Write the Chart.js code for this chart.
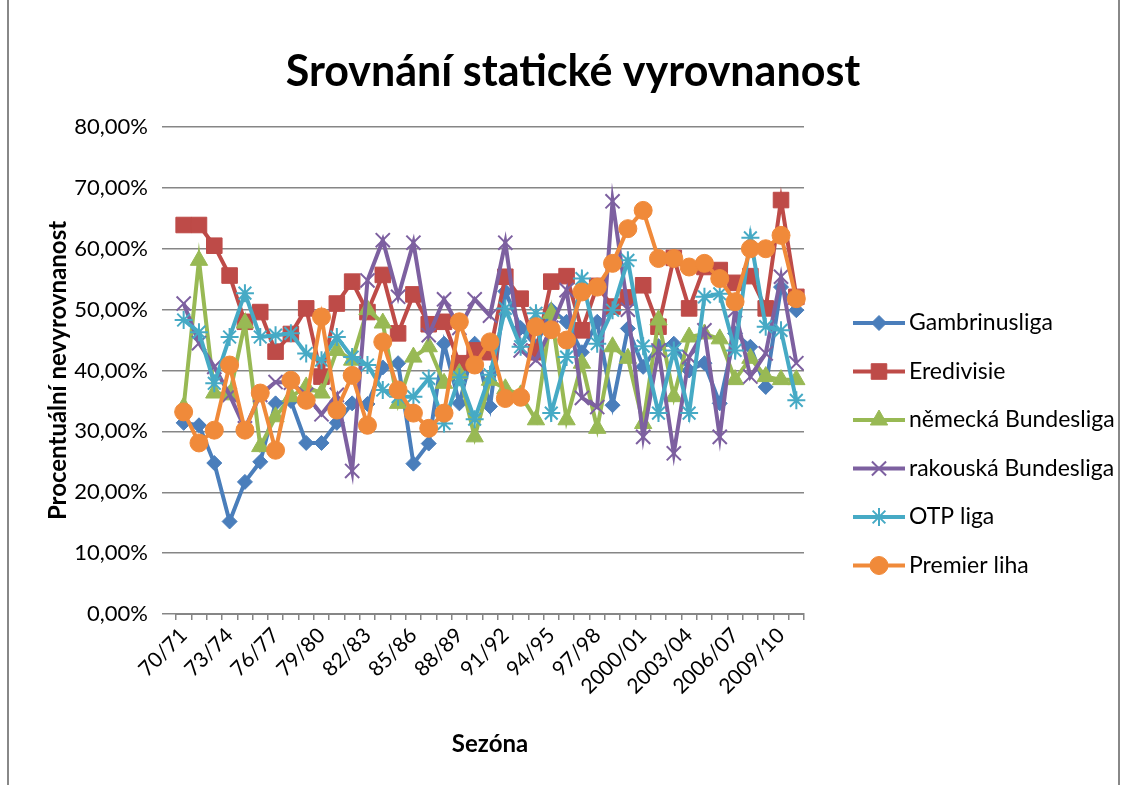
<!DOCTYPE html>
<html>
<head>
<meta charset="utf-8">
<title>Srovnání statické vyrovnanost</title>
<script src="https://cdn.jsdelivr.net/npm/chart.js@4.4.1/dist/chart.umd.min.js"></script>
<style>
  body { margin: 0; background: #fff; }
  #wrap { position: relative; width: 1128px; height: 785px; }
</style>
</head>
<body>
<div id="wrap"><canvas id="chart" width="1128" height="785"></canvas></div>
<script>
// Seasons (category axis)
const seasons = [
  "70/71", "71/72", "72/73", "73/74", "74/75", "75/76", "76/77", "77/78", "78/79", "79/80",
  "80/81", "81/82", "82/83", "83/84", "84/85", "85/86", "86/87", "87/88", "88/89", "89/90",
  "90/91", "91/92", "92/93", "93/94", "94/95", "95/96", "96/97", "97/98", "98/99", "99/2000",
  "2000/01", "2001/02", "2002/03", "2003/04", "2004/05", "2005/06", "2006/07", "2007/08", "2008/09", "2009/10",
  "2010/11"
];

// Values in percent
const gambrinusliga = [
  31.4, 31.0, 24.8, 15.2, 21.7, 25.0, 34.6, 35.0, 28.1, 28.1,
  31.4, 34.6, 34.5, 40.5, 41.2, 24.7, 28.0, 44.4, 34.6, 44.4,
  34.1, 53.0, 47.0, 44.0, 50.0, 48.0, 43.0, 48.0, 34.3, 46.9,
  40.6, 44.0, 44.4, 40.0, 41.2, 34.6, 46.1, 43.9, 37.3, 53.7,
  49.9
];
const eredivisie = [
  63.9, 63.9, 60.5, 55.6, 48.0, 49.6, 43.1, 46.0, 50.2, 39.0,
  51.0, 54.6, 49.6, 55.7, 46.1, 52.5, 47.6, 48.0, 41.2, 43.3,
  43.0, 55.4, 51.8, 43.0, 54.6, 55.5, 46.6, 53.9, 50.5, 52.0,
  54.0, 47.2, 58.5, 50.2, 57.0, 56.5, 54.4, 55.5, 50.2, 68.0,
  52.1
];
const nemeckaBundesliga = [
  34.0, 58.1, 36.3, 36.0, 47.8, 27.5, 32.4, 35.7, 37.3, 36.3,
  43.3, 41.7, 50.0, 47.8, 34.6, 42.2, 43.9, 37.9, 39.5, 29.1,
  38.4, 37.0, 36.0, 31.9, 49.4, 31.9, 41.2, 30.5, 43.9, 42.0,
  31.3, 48.3, 35.7, 45.5, 46.0, 45.2, 38.5, 42.0, 39.0, 38.5,
  38.5
];
const rakouskaBundesliga = [
  51.0, 44.5, 40.6, 36.0, 30.5, 36.0, 38.1, 38.0, 36.0, 32.8,
  36.0, 23.5, 54.8, 61.4, 52.1, 61.0, 45.8, 51.7, 47.0, 51.7,
  49.0, 61.0, 43.3, 41.7, 47.0, 53.2, 35.5, 34.0, 67.8, 50.0,
  29.1, 43.3, 26.4, 42.2, 46.6, 29.1, 49.9, 39.0, 42.8, 55.4,
  41.2
];
const otpLiga = [
  48.3, 46.3, 37.9, 45.5, 52.7, 45.5, 45.8, 46.1, 42.8, 41.7,
  45.5, 42.2, 40.9, 36.8, 35.7, 35.7, 38.7, 31.3, 38.9, 32.0,
  39.3, 50.2, 43.9, 49.4, 33.0, 42.2, 55.1, 44.4, 49.9, 58.1,
  44.0, 33.0, 43.3, 33.0, 52.1, 52.6, 43.3, 61.8, 47.2, 46.6,
  35.1
];
const premierLiha = [
  33.2, 28.1, 30.2, 40.9, 30.2, 36.3, 26.9, 38.4, 35.1, 48.8,
  33.5, 39.2, 31.0, 44.7, 36.8, 33.0, 30.5, 33.0, 48.0, 40.9,
  44.7, 35.4, 35.6, 47.2, 46.7, 45.0, 52.9, 53.7, 57.6, 63.3,
  66.3, 58.4, 58.4, 57.0, 57.6, 55.1, 51.3, 60.0, 60.0, 62.2,
  51.8
];

const seriesNames = [
  "Gambrinusliga", "Eredivisie", "německá Bundesliga",
  "rakouská Bundesliga", "OTP liga", "Premier liha"
];
const seriesValues = [
  gambrinusliga, eredivisie, nemeckaBundesliga,
  rakouskaBundesliga, otpLiga, premierLiha
];

const chartTitle = "Srovnání statické vyrovnanost";

const colors = ["#4A7EBB", "#BE4B48", "#98B954", "#7D60A0", "#46AAC5", "#F08A3A"];
const markers = [
  { style: "rectRot", radius: 7.5, border: 1 },
  { style: "rect", radius: 11, border: 1 },
  { style: "triangle", radius: 10, border: 1 },
  { style: "crossRot", radius: 10, border: 2 },
  { style: "star", radius: 9, border: 2 },
  { style: "circle", radius: 9, border: 1 },
];

const FONT = "Lato, 'Open Sans', sans-serif";

const datasets = seriesNames.map((name, i) => ({
  label: name,
  data: seriesValues[i],
  borderColor: colors[i],
  backgroundColor: colors[i],
  borderWidth: 4,
  pointStyle: markers[i].style,
  pointRadius: markers[i].radius,
  pointBorderWidth: markers[i].border,
  pointBackgroundColor: colors[i],
  pointBorderColor: colors[i],
  tension: 0,
  // later series on top, like the original
  order: seriesNames.length - i,
}));

// title over the whole page width, legend with line + marker, frame
const excelDecor = {
  id: "excelDecor",
  afterDraw(chart) {
    const ctx = chart.ctx;
    ctx.save();
    ctx.strokeStyle = "#888";
    ctx.lineWidth = 2;
    ctx.beginPath();
    ctx.moveTo(8, 0);
    ctx.lineTo(8, 785);
    ctx.moveTo(1119, 0);
    ctx.lineTo(1119, 785);
    ctx.stroke();

    ctx.fillStyle = "#000";
    ctx.font = "bold 43px " + FONT;
    ctx.textAlign = "center";
    ctx.textBaseline = "alphabetic";
    ctx.fillText(chartTitle, 573, 86);

    const x0 = 853, x1 = 905, tx = 909;
    const top = 323, step = 48.5;
    chart.data.datasets.forEach((ds, i) => {
      const y = top + i * step;
      ctx.strokeStyle = ds.borderColor;
      ctx.lineWidth = 4;
      ctx.beginPath();
      ctx.moveTo(x0, y);
      ctx.lineTo(x1, y);
      ctx.stroke();
      if (Chart.helpers && Chart.helpers.drawPoint) {
        ctx.fillStyle = ds.pointBackgroundColor;
        ctx.strokeStyle = ds.pointBorderColor;
        ctx.lineWidth = ds.pointBorderWidth;
        Chart.helpers.drawPoint(ctx, {
          pointStyle: ds.pointStyle,
          radius: ds.pointRadius,
          borderWidth: ds.pointBorderWidth,
          rotation: 0,
        }, (x0 + x1) / 2, y);
      }
      ctx.fillStyle = "#000";
      ctx.font = "23px " + FONT;
      ctx.textBaseline = "middle";
      ctx.textAlign = "left";
      ctx.fillText(ds.label, tx, y);
    });
    ctx.restore();
  },
};

new Chart(document.getElementById("chart"), {
  type: "line",
  data: { labels: seasons, datasets: datasets },
  options: {
    responsive: false,
    animation: false,
    devicePixelRatio: 1,
    layout: { padding: { left: 0, right: 324, top: 127, bottom: 0 } },
    plugins: {
      legend: { display: false },
      tooltip: { enabled: false },
      title: { display: false },
    },
    scales: {
      x: {
        offset: true,
        grid: {
          offset: true,
          drawOnChartArea: false,
          tickLength: 6,
          color: "#868686",
          lineWidth: 1.5,
        },
        border: { color: "#868686", width: 2 },
        ticks: {
          autoSkip: false,
          minRotation: 45,
          maxRotation: 45,
          padding: 3,
          color: "#000",
          font: { family: FONT, size: 21 },
          callback: function (value, index) {
            return index % 3 === 0 ? seasons[index] : "";
          },
        },
        title: {
          display: true,
          text: "Sezóna",
          color: "#000",
          font: { family: FONT, size: 24, weight: "bold" },
          padding: { top: 0, bottom: 26 },
        },
        afterFit: function (scale) {
          scale.height = 171;
        },
      },
      y: {
        min: 0,
        max: 80,
        grid: {
          color: "#868686",
          lineWidth: 1.5,
          drawTicks: true,
          tickLength: 14,
        },
        border: { display: false },
        ticks: {
          stepSize: 10,
          padding: 14,
          color: "#000",
          font: { family: FONT, size: 22 },
          callback: function (value) {
            return value.toFixed(2).replace(".", ",") + "%";
          },
        },
        title: {
          display: true,
          text: "Procentuální nevyrovnanost",
          color: "#000",
          font: { family: FONT, size: 24, weight: "bold" },
          padding: { top: 44, bottom: 0 },
        },
        afterFit: function (scale) {
          scale.width = 176;
        },
      },
    },
  },
  plugins: [excelDecor],
});
</script>
</body>
</html>
